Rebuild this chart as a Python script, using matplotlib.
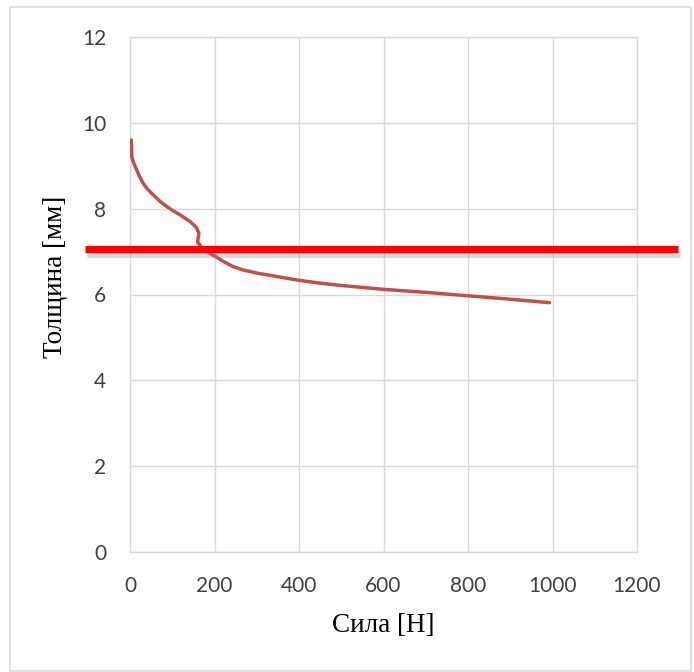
import matplotlib
matplotlib.use('Agg')
import matplotlib.pyplot as plt
import matplotlib.patheffects as pe
from matplotlib.patches import Rectangle

# force [N] vs thickness [mm]
force = [3, 4, 8, 16, 22, 31, 42, 55, 70, 87, 102, 118, 130, 142, 150, 158,
         163, 161, 160, 168, 177, 189, 205, 221, 244, 268, 300, 347, 394, 445,
         500, 600, 700, 800, 900, 993]
thickness = [9.6, 9.22, 9.08, 8.9, 8.76, 8.59, 8.45, 8.32, 8.18, 8.05, 7.95,
             7.86, 7.78, 7.70, 7.63, 7.55, 7.42, 7.30, 7.22, 7.12, 7.04, 6.96,
             6.87, 6.77, 6.65, 6.57, 6.50, 6.42, 6.34, 6.27, 6.21, 6.12, 6.05,
             5.97, 5.89, 5.81]

# red marker line (spans past the plot area)
limit_x = [-106, 1296]
limit_y = [7.05, 7.05]

xticks = [0, 200, 400, 600, 800, 1000, 1200]
yticks = [0, 2, 4, 6, 8, 10, 12]

grid_c = '#D9D9D9'

fig = plt.figure(figsize=(6.94, 6.72), dpi=100)
ax = fig.add_axes([130 / 694, 1 - 552 / 672, 507 / 694, 515 / 672])

ax.plot(force, thickness, color='#C0504D', lw=2.5, solid_capstyle='round',
        solid_joinstyle='round', zorder=3)

ax.plot(limit_x, limit_y, color='#FF0000', lw=5.2, clip_on=False, zorder=4,
        solid_capstyle='butt',
        path_effects=[pe.SimpleLineShadow(offset=(1.5, -3), shadow_color='#7F7F7F', alpha=0.3),
                      pe.Normal()])

ax.set_xlim(0, 1200)
ax.set_ylim(0, 12)
ax.set_xticks(xticks)
ax.set_yticks(yticks)
ax.grid(True, color=grid_c, lw=1)
ax.set_axisbelow(True)
for s in ax.spines.values():
    s.set_color(grid_c)
    s.set_linewidth(1)
ax.tick_params(length=0, labelsize=15, labelcolor='#404040', pad=17)
for lab in ax.get_xticklabels() + ax.get_yticklabels():
    lab.set_family('Lato')

ax.set_xlabel('Сила [Н]', family='Liberation Serif', fontsize=19.5, va='center')
ax.set_ylabel('Толщина [мм]', family='Liberation Serif', fontsize=19.5, va='center')
ax.xaxis.set_label_coords(0.5, (552 - 625) / 515)
ax.yaxis.set_label_coords((55 - 130) / 507, (552 - 277) / 515)

# chart border
fig.patches.append(Rectangle((10 / 694, 1 - 671 / 672), 681 / 694, 664 / 672,
                             transform=fig.transFigure, fill=False,
                             edgecolor=grid_c, lw=1.2))

fig.savefig('out.png', dpi=100)
